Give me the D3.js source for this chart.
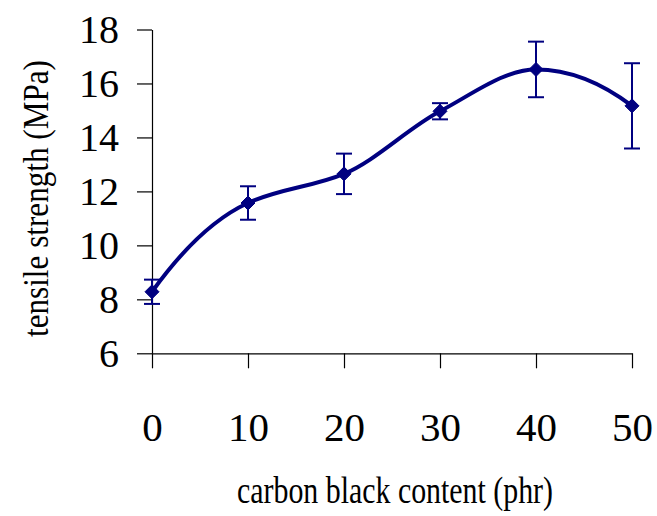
<!DOCTYPE html>
<html>
<head>
<meta charset="utf-8">
<script src="https://cdn.jsdelivr.net/npm/d3@7"></script>
<style>
  html, body { margin: 0; padding: 0; background: #fff; }
  svg { display: block; }
  text { font-family: "Liberation Serif", "Times New Roman", serif; fill: #000; }
</style>
</head>
<body>
<svg id="chart" width="657" height="516"></svg>
<script>
const carbonBlack = [0, 10, 20, 30, 40, 50];
const tensileStrength = [8.28, 11.57, 12.65, 14.97, 16.52, 15.17];
const errorValues = [0.45, 0.62, 0.75, 0.30, 1.03, 1.58];
const xTicks = [0, 10, 20, 30, 40, 50];
const yTicks = [6, 8, 10, 12, 14, 16, 18];
const xTitle = "carbon black content (phr)";
const yTitle = "tensile strength (MPa)";

const svg = d3.select("#chart");
const x = d3.scaleLinear().domain([0, 50]).range([152, 632]);
const y = d3.scaleLinear().domain([6, 18]).range([353.3, 29.5]);
const navy = "#000080";

// Smoothing curve (Hermite spline, harmonic-mean tangents, parabolic ends)
function curveSmooth(context) {
  let pts;
  return {
    areaStart() {}, areaEnd() {},
    lineStart() { pts = []; },
    point(px, py) { pts.push([+px, +py]); },
    lineEnd() {
      const n = pts.length;
      if (!n) return;
      context.moveTo(pts[0][0], pts[0][1]);
      if (n < 3) { if (n === 2) context.lineTo(pts[1][0], pts[1][1]); return; }
      const s = [];
      for (let i = 0; i < n - 1; i++) s.push((pts[i + 1][1] - pts[i][1]) / (pts[i + 1][0] - pts[i][0]));
      const t = new Array(n);
      for (let i = 1; i < n - 1; i++) t[i] = s[i - 1] * s[i] > 0 ? 2 / (1 / s[i - 1] + 1 / s[i]) : 0;
      t[0] = 2 * s[0] - t[1];
      t[n - 1] = 2 * s[n - 2] - t[n - 2];
      for (let i = 0; i < n - 1; i++) {
        const [x0, y0] = pts[i], [x1, y1] = pts[i + 1];
        const h = (x1 - x0) / 3;
        context.bezierCurveTo(x0 + h, y0 + t[i] * h, x1 - h, y1 - t[i + 1] * h, x1, y1);
      }
    }
  };
}

// Y axis
const yAxis = svg.append("g")
  .attr("transform", `translate(${x(0)},0)`)
  .call(d3.axisLeft(y).tickValues(yTicks).tickSize(15).tickSizeOuter(0).tickPadding(18).tickFormat(d3.format("d")));
yAxis.select(".domain").attr("stroke", "#000").attr("stroke-width", 1.2);
yAxis.selectAll(".tick line").attr("stroke", "#000").attr("stroke-width", 1.2);
yAxis.selectAll(".tick text")
  .style("font-family", '"Liberation Serif", "Times New Roman", serif')
  .style("font-size", "40px")
  .attr("dy", "0.33em");

// X axis
const xAxis = svg.append("g")
  .attr("transform", `translate(0,${y(6)})`)
  .call(d3.axisBottom(x).tickValues(xTicks).tickSize(15).tickSizeOuter(0).tickFormat(d3.format("d")));
xAxis.select(".domain").attr("stroke", "#000").attr("stroke-width", 1.2);
xAxis.selectAll(".tick line").attr("stroke", "#000").attr("stroke-width", 1.2);
xAxis.selectAll(".tick text")
  .style("font-family", '"Liberation Serif", "Times New Roman", serif')
  .style("font-size", "41px")
  .attr("y", 87.5)
  .attr("dy", 0);

// Axis titles
svg.append("text")
  .attr("x", 395)
  .attr("y", 503)
  .attr("text-anchor", "middle")
  .attr("textLength", 316)
  .attr("lengthAdjust", "spacingAndGlyphs")
  .style("font-size", "37px")
  .text(xTitle);

svg.append("text")
  .attr("transform", "translate(48,198.5) rotate(-90)")
  .attr("text-anchor", "middle")
  .attr("textLength", 277)
  .attr("lengthAdjust", "spacingAndGlyphs")
  .style("font-size", "35px")
  .text(yTitle);

const data = carbonBlack.map((c, i) => ({ c, v: tensileStrength[i], e: errorValues[i] }));

// Smoothed line
const line = d3.line()
  .x(d => x(d.c))
  .y(d => y(d.v))
  .curve(curveSmooth);
svg.append("path")
  .datum(data)
  .attr("d", line)
  .attr("fill", "none")
  .attr("stroke", navy)
  .attr("stroke-width", 4)
  .attr("stroke-linejoin", "round");

// Error bars
const eb = svg.append("g").attr("stroke", navy).attr("stroke-width", 2).attr("fill", "none");
data.forEach(d => {
  const cx = x(d.c);
  eb.append("line").attr("x1", cx).attr("x2", cx).attr("y1", y(d.v - d.e)).attr("y2", y(d.v + d.e));
  eb.append("line").attr("x1", cx - 8).attr("x2", cx + 8).attr("y1", y(d.v + d.e)).attr("y2", y(d.v + d.e));
  eb.append("line").attr("x1", cx - 8).attr("x2", cx + 8).attr("y1", y(d.v - d.e)).attr("y2", y(d.v - d.e));
});

// Diamond markers
const r = 7;
svg.append("g").selectAll("path")
  .data(data)
  .join("path")
  .attr("d", d => {
    const cx = x(d.c), cy = y(d.v);
    return `M${cx},${cy - r}L${cx + r},${cy}L${cx},${cy + r}L${cx - r},${cy}Z`;
  })
  .attr("fill", navy)
  .attr("stroke", navy)
  .attr("stroke-width", 1);
</script>
</body>
</html>
